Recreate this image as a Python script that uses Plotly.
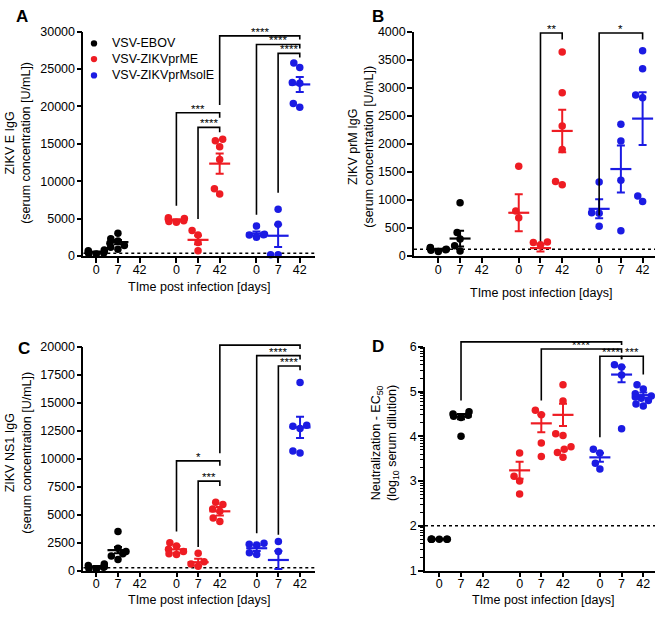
import math
import plotly.graph_objects as go

W, H = 660, 617

# ---------------- data ----------------
group_names = ["VSV-EBOV", "VSV-ZIKVprME", "VSV-ZIKVprMsolE"]
day_labels = ["0", "7", "42"]
group_offsets = [0.0, 3.7, 7.4]

# Panel A - ZIKV E IgG (U/mL); per group: points for day 0, 7, 42
A_ebov_pts = [[700, 300, 500, 800, 250, 600, 400], [3050, 2300, 2000, 1700, 1400, 1150, 900], []]
A_prme_pts = [[5000, 4700, 4500, 4900, 5100, 4600], [3400, 2800, 1800, 700], [15600, 15400, 14600, 12900, 8300, 9000]]
A_sole_pts = [[4000, 2900, 2800, 2850, 2500], [6250, 4250, 150, 150], [25200, 25800, 23200, 23100, 19900, 20400]]
A_ebov_mean = [510, 1850, None]
A_ebov_sem = [80, 290, None]
A_prme_mean = [4800, 2150, 12350]
A_prme_sem = [100, 580, 1350]
A_sole_mean = [3000, 2700, 22950]
A_sole_sem = [280, 1500, 1000]
A_lod = 350
# brackets: (group1, day1, group2, day2, top, leg1 bottom, leg2 bottom, label)
A_brackets = [
    (1, 2, 2, 2, 29450, 20200, 28950, "****"),
    (2, 0, 2, 2, 28300, 5500, 27750, "****"),
    (2, 1, 2, 2, 27100, 8450, 26550, "****"),
    (1, 0, 1, 2, 19150, 6700, 18500, "***"),
    (1, 1, 1, 2, 17200, 4950, 16550, "****"),
]

# Panel B - ZIKV prM IgG (U/mL)
B_ebov_pts = [[140, 120, 100, 150, 80, 110], [950, 420, 300, 180, 90], []]
B_prme_pts = [[1600, 680, 800], [250, 240, 200], [3640, 2910, 2320, 1900, 1270, 1330]]
B_sole_pts = [[1320, 770, 760, 530], [2350, 2050, 1350, 450], [3660, 3340, 2870, 2820, 970, 1070]]
B_ebov_mean = [115, 310, None]
B_ebov_sem = [12, 140, None]
B_prme_mean = [770, 140, 2230]
B_prme_sem = [330, 60, 380]
B_sole_mean = [840, 1550, 2450]
B_sole_sem = [170, 420, 470]
B_lod = 120
B_brackets = [
    (1, 1, 1, 2, 3977, 260, 3860, "**"),
    (2, 0, 2, 2, 3977, 720, 3860, "*"),
]

# Panel C - ZIKV NS1 IgG (U/mL)
C_ebov_pts = [[600, 450, 300, 200, 350, 100], [3500, 2000, 1700, 1500, 1300, 1000], []]
C_prme_pts = [[2500, 2200, 1900, 1500, 1450, 1700], [1550, 800, 600, 400], [6100, 5900, 5500, 5300, 4700, 4400]]
C_sole_pts = [[2450, 2300, 2350, 1450, 1600], [2600, 1700], [16800, 13000, 12900, 12700, 10500, 10700]]
C_ebov_mean = [330, 1830, None]
C_ebov_sem = [80, 280, None]
C_prme_mean = [1900, 750, 5300]
C_prme_sem = [300, 320, 380]
C_sole_mean = [2000, 950, 12800]
C_sole_sem = [250, 800, 950]
C_lod = 250
C_brackets = [
    (1, 2, 2, 2, 20150, 10480, 19800, "****"),
    (2, 0, 2, 2, 19210, 3350, 18860, "****"),
    (2, 1, 2, 2, 18280, 3200, 17900, "****"),
    (1, 0, 1, 2, 9810, 3500, 9370, "*"),
    (1, 1, 1, 2, 8000, 2100, 7570, "***"),
]

# Panel D - Neutralization EC50 (log10 serum dilution)
D_ebov_pts = [[1.7, 1.7, 1.7, 1.7, 1.7, 1.7], [4.55, 4.5, 4.47, 4.45, 4.42, 4.0], []]
D_prme_pts = [[3.63, 3.11, 3.0, 2.71], [4.48, 4.58, 3.85, 3.55], [5.15, 4.79, 4.06, 4.02, 3.77, 3.71, 3.64, 3.53]]
D_sole_pts = [[3.71, 3.63, 3.4, 3.27], [5.6, 5.55, 5.37, 4.17], [5.15, 5.06, 4.95, 4.9, 4.88, 4.85, 4.8, 4.72, 4.68]]
D_ebov_mean = [1.7, 4.44, None]
D_ebov_sem = [0, 0.06, None]
D_prme_mean = [3.24, 4.29, 4.48]
D_prme_sem = [0.19, 0.2, 0.25]
D_sole_mean = [3.53, 5.38, 4.92]
D_sole_sem = [0.1, 0.17, 0.06]
D_lod = 2.0
D_brackets = [
    (0, 1, 2, 1, 6.11, 4.80, 6.04, "****"),
    (1, 1, 2, 1, 5.95, 4.80, 5.87, "****"),
    (2, 0, 2, 1, 5.79, 3.98, 5.72, "****"),
    (2, 1, 2, 2, 5.79, 5.72, 5.38, "***"),
]

A_ytitle = "ZIKV E IgG<br>(serum concentration [U/mL])"
B_ytitle = "ZIKV prM IgG<br>(serum concentration [U/mL])"
C_ytitle = "ZIKV NS1 IgG<br>(serum concentration [U/mL])"
D_ytitle = "Neutralization - EC<sub>50</sub><br>(log<sub>10</sub> serum dilution)"
x_title = "TIme post infection [days]"

# ---------------- style / layout ----------------
colors = ["#000000", "#EE1C23", "#1B1BE3"]
FONT = "Liberation Sans, Arial, Helvetica, sans-serif"
MS = 7.5
EXT = 30  # px of extra room above each plot for the significance brackets

panels = [
    dict(name="A", pts=[A_ebov_pts, A_prme_pts, A_sole_pts], mean=[A_ebov_mean, A_prme_mean, A_sole_mean],
         sem=[A_ebov_sem, A_prme_sem, A_sole_sem], lod=A_lod, br=A_brackets, ytitle=A_ytitle,
         box=(83.3, 314.7, 25.3, 254.7), xr=[-0.6, 10.09], yr=[0, 30000], ytv=list(range(0, 30001, 5000)),
         ytpos=(18, 139), xtpos=(199, 286), letter=(21.7, 9.5), minor=None),
    dict(name="B", pts=[B_ebov_pts, B_prme_pts, B_sole_pts], mean=[B_ebov_mean, B_prme_mean, B_sole_mean],
         sem=[B_ebov_sem, B_prme_sem, B_sole_sem], lod=B_lod, br=B_brackets, ytitle=B_ytitle,
         box=(414, 655, 25.3, 254.7), xr=[-1.12, 9.97], yr=[0, 4000], ytv=list(range(0, 4001, 500)),
         ytpos=(361, 143), xtpos=(541, 293), letter=(377.8, 9.5), minor=None),
    dict(name="C", pts=[C_ebov_pts, C_prme_pts, C_sole_pts], mean=[C_ebov_mean, C_prme_mean, C_sole_mean],
         sem=[C_ebov_sem, C_prme_sem, C_sole_sem], lod=C_lod, br=C_brackets, ytitle=C_ytitle,
         box=(83.3, 315, 347.7, 576.7), xr=[-0.6, 10.09], yr=[0, 20000], ytv=list(range(0, 20001, 2500)),
         ytpos=(18, 456), xtpos=(199, 606.7), letter=(23.7, 349), minor=None),
    dict(name="D", pts=[D_ebov_pts, D_prme_pts, D_sole_pts], mean=[D_ebov_mean, D_prme_mean, D_sole_mean],
         sem=[D_ebov_sem, D_prme_sem, D_sole_sem], lod=D_lod, br=D_brackets, ytitle=D_ytitle,
         box=(425, 655, 347.7, 576.7), xr=[-0.66, 9.94], yr=[1, 6], ytv=[1, 2, 3, 4, 5, 6],
         ytpos=(385, 446), xtpos=(543, 606.7), letter=(377.5, 347.5),
         minor=[n + math.log10(k) for n in range(1, 6) for k in range(2, 10)]),
]


def pxx(x):
    return x / W


def pyy(y):
    return min(1.0, max(0.0, 1 - y / H))


def xpos(g, d):
    return group_offsets[g] + d


def swarm(vals, ypx, xpx, d=MS, maxoff=8.0):
    """Simple beeswarm: returns horizontal offsets in x-axis units."""
    order = sorted(range(len(vals)), key=lambda i: vals[i])
    placed = []
    offs = [0.0] * len(vals)
    for i in order:
        y = vals[i] * ypx
        cand = [0.0]
        for xo, yo in placed:
            dy = abs(y - yo)
            if dy < d:
                dx = math.sqrt(d * d - dy * dy)
                cand += [xo + dx, xo - dx]
        cand.sort(key=lambda c: (abs(c), c))
        chosen = cand[-1]
        for c in cand:
            if all((c - xo) ** 2 + (y - yo) ** 2 >= d * d - 1e-6 for xo, yo in placed):
                chosen = c
                break
        placed.append((chosen, y))
        offs[i] = max(-maxoff, min(maxoff, chosen)) / xpx
    return offs


fig = go.Figure()
annotations = []
shapes = []
layout_axes = {}

for pi, P in enumerate(panels):
    n = pi + 1
    nb = n + 4  # hidden axes pair for brackets (same scale, taller domain)
    xa = "x" if n == 1 else f"x{n}"
    ya = "y" if n == 1 else f"y{n}"
    xb, yb = f"x{nb}", f"y{nb}"
    L, R, T, B = P["box"]
    xpx = (R - L) / (P["xr"][1] - P["xr"][0])
    ypx = (B - T) / (P["yr"][1] - P["yr"][0])
    ext = min(EXT, T)

    # LOD dotted line
    fig.add_trace(go.Scatter(x=P["xr"], y=[P["lod"], P["lod"]], mode="lines", xaxis=xa, yaxis=ya,
                             line=dict(color="black", width=1.5, dash="dot"), hoverinfo="skip",
                             showlegend=False))

    # brackets (drawn on the taller hidden axes so they are not clipped)
    for (g1, d1, g2, d2, top, b1, b2, lab) in P["br"]:
        x1, x2 = xpos(g1, d1), xpos(g2, d2)
        fig.add_trace(go.Scatter(x=[x1, x1, x2, x2], y=[b1, top, top, b2], mode="lines",
                                 xaxis=xb, yaxis=yb, cliponaxis=False,
                                 line=dict(color="black", width=1.6), hoverinfo="skip", showlegend=False))
        annotations.append(dict(x=(x1 + x2) / 2, y=top, xref=xa, yref=ya, text=lab, showarrow=False,
                                yanchor="bottom", yshift=-4, font=dict(size=11.5, color="black", family=FONT)))

    # points and mean +/- SEM
    for g in range(3):
        xs, ys = [], []
        mx, my, me = [], [], []
        for d in range(3):
            vals = P["pts"][g][d]
            offs = swarm(vals, ypx, xpx)
            for v, o in zip(vals, offs):
                xs.append(xpos(g, d) + o)
                ys.append(v)
            m = P["mean"][g][d]
            if m is not None:
                mx.append(xpos(g, d))
                my.append(m)
                me.append(P["sem"][g][d])
        fig.add_trace(go.Scatter(x=xs, y=ys, mode="markers", xaxis=xa, yaxis=ya, cliponaxis=False,
                                 marker=dict(size=MS, color=colors[g], line=dict(width=0)),
                                 name=group_names[g], showlegend=False))
        fig.add_trace(go.Scatter(x=mx, y=my, mode="markers", xaxis=xa, yaxis=ya, cliponaxis=False,
                                 marker=dict(symbol="line-ew", size=15, color=colors[g],
                                             line=dict(color=colors[g], width=2.2)),
                                 error_y=dict(type="data", array=me, visible=True, color=colors[g],
                                              thickness=2, width=4),
                                 showlegend=False, hoverinfo="skip"))

    tickvals = [xpos(g, d) for g in range(3) for d in range(3)]
    ticktext = [day_labels[d] for g in range(3) for d in range(3)]
    xkey = "xaxis" if n == 1 else f"xaxis{n}"
    ykey = "yaxis" if n == 1 else f"yaxis{n}"
    axcommon = dict(showline=True, linecolor="black", linewidth=1.6, ticks="outside", ticklen=5,
                    tickwidth=1.5, tickcolor="black", showgrid=False, zeroline=False, fixedrange=True,
                    tickfont=dict(size=12.5, color="black", family=FONT))
    layout_axes[xkey] = dict(domain=[pxx(L), pxx(R)], range=P["xr"], anchor=ya, tickmode="array",
                             tickvals=tickvals, ticktext=ticktext, ticklabelstandoff=-4, **axcommon)
    yax = dict(domain=[pyy(B), pyy(T)], range=P["yr"], anchor=xa, tickmode="array",
               tickvals=P["ytv"], ticktext=[str(v) for v in P["ytv"]], ticklabelstandoff=-1, **axcommon)
    if P["minor"]:
        yax["minor"] = dict(tickmode="array", tickvals=P["minor"], ticks="outside", ticklen=3,
                            tickwidth=1, tickcolor="black")
    layout_axes[ykey] = yax
    # hidden bracket axes: same x scale, y scale extended upward by ext px
    layout_axes[f"xaxis{nb}"] = dict(domain=[pxx(L), pxx(R)], range=P["xr"], anchor=yb, visible=False,
                                     fixedrange=True)
    layout_axes[f"yaxis{nb}"] = dict(domain=[pyy(B), pyy(T - ext)],
                                     range=[P["yr"][0], P["yr"][1] + ext / ypx], anchor=xb,
                                     visible=False, fixedrange=True)

    # titles
    annotations.append(dict(x=pxx(P["ytpos"][0]), y=pyy(P["ytpos"][1]), xref="paper", yref="paper",
                            text=P["ytitle"], textangle=-90, showarrow=False, xanchor="center",
                            yanchor="middle", font=dict(size=12.5, color="black", family=FONT)))
    annotations.append(dict(x=pxx(P["xtpos"][0]), y=pyy(P["xtpos"][1]), xref="paper", yref="paper",
                            text=x_title, showarrow=False, xanchor="center", yanchor="middle",
                            font=dict(size=12.5, color="black", family=FONT)))
    annotations.append(dict(x=pxx(P["letter"][0]), y=pyy(P["letter"][1]), xref="paper", yref="paper",
                            text="<b>" + P["name"] + "</b>", showarrow=False, xanchor="center",
                            yanchor="middle", font=dict(size=17, color="black", family=FONT)))

# legend (panel A)
leg_rows = [37.3, 53.3, 70.0]
for g in range(3):
    cx, cy, r = 94, leg_rows[g], 3.2
    shapes.append(dict(type="circle", xref="paper", yref="paper", x0=pxx(cx - r), x1=pxx(cx + r),
                       y0=pyy(cy + r), y1=pyy(cy - r), fillcolor=colors[g], line=dict(width=0)))
    annotations.append(dict(x=pxx(110), y=pyy(cy), xref="paper", yref="paper", text=group_names[g],
                            showarrow=False, xanchor="left", yanchor="middle",
                            font=dict(size=12.5, color="black", family=FONT)))

fig.update_layout(width=W, height=H, margin=dict(l=0, r=0, t=0, b=0), paper_bgcolor="white",
                  plot_bgcolor="rgba(0,0,0,0)", showlegend=False, annotations=annotations, shapes=shapes,
                  font=dict(family=FONT, color="black"), **layout_axes)

fig.write_html("out.html", config={"displayModeBar": False},
               post_script="document.body.style.margin='0px';document.body.style.padding='0px';")
